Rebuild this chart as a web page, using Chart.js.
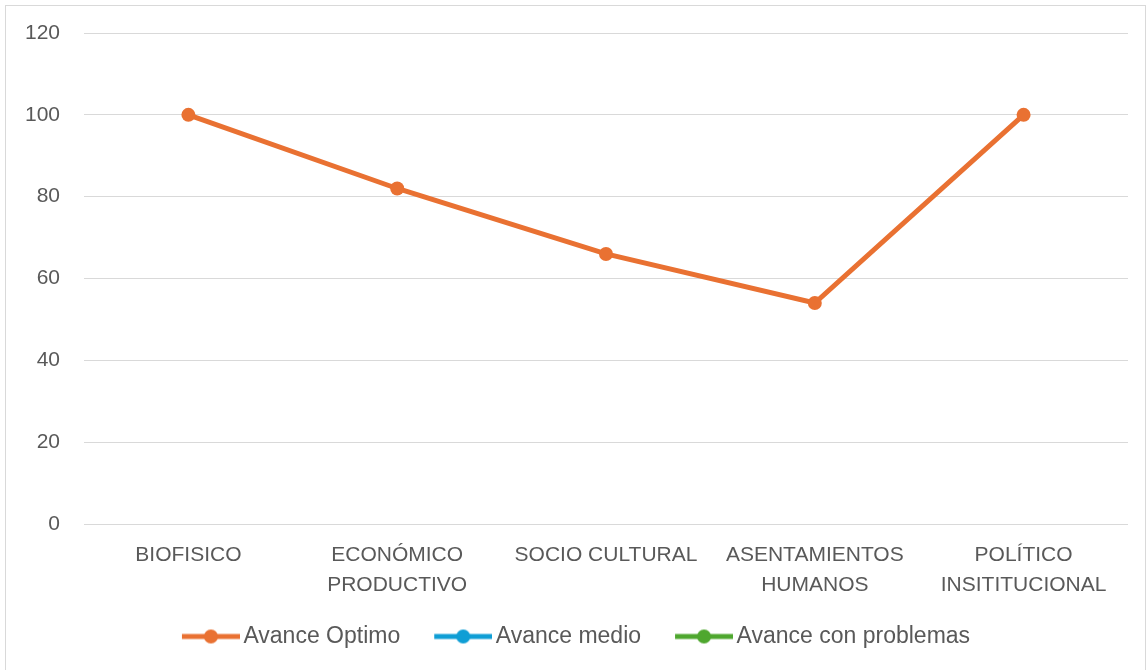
<!DOCTYPE html>
<html>
<head>
<meta charset="utf-8">
<script src="https://cdn.jsdelivr.net/npm/chart.js@4.4.1/dist/chart.umd.min.js"></script>
<style>
  html, body { margin: 0; padding: 0; background: #fff; }
  #wrap { position: relative; width: 1148px; height: 670px; }
  #frame { position: absolute; left: 5px; top: 5px; width: 1141px; height: 670px; border: 1px solid #d9d9d9; box-sizing: border-box; pointer-events: none; }
  canvas { position: absolute; left: 0; top: 0; }
</style>
</head>
<body>
<div id="wrap">
  <canvas id="lineChart" width="1148" height="670"></canvas>
  <div id="frame"></div>
</div>
<script>
// categories and series
var categorias = [
  'BIOFISICO',
  ['ECONÓMICO', 'PRODUCTIVO'],
  'SOCIO CULTURAL',
  ['ASENTAMIENTOS', 'HUMANOS'],
  ['POLÍTICO', 'INSITITUCIONAL']
];
var avanceOptimo = [100, 82, 66, 54, 100];
var avanceMedio = [];
var avanceProblemas = [];
var ticksY = [0, 20, 40, 60, 80, 100, 120];

var naranja = '#E97132', azul = '#0F9ED5', verde = '#4EA72E';
var fontFam = "'Liberation Sans', Arial, sans-serif";

// legend marker: line with a dot, drawn to a small canvas
var boxW = 74, lineLen = 58;
function legendMarker(color) {
    var c = document.createElement('canvas');
    c.width = boxW + 16;
    c.height = 16;
    var g = c.getContext('2d');
    var x0 = c.width - lineLen, x1 = c.width;
    g.strokeStyle = color;
    g.lineWidth = 5;
    g.beginPath();
    g.moveTo(x0, 8);
    g.lineTo(x1, 8);
    g.stroke();
    g.fillStyle = color;
    g.beginPath();
    g.arc((x0 + x1) / 2, 8, 7, 0, Math.PI * 2);
    g.fill();
    return c;
}

function serie(label, data, color) {
    return {
        label: label,
        data: data,
        borderColor: color,
        backgroundColor: color,
        borderWidth: 5,
        pointRadius: 7,
        pointHoverRadius: 7,
        pointBorderWidth: 0,
        pointBackgroundColor: color,
        tension: 0,
        fill: false
    };
}

var markers = [legendMarker(naranja), legendMarker(azul), legendMarker(verde)];

var ctx = document.getElementById('lineChart').getContext('2d');
var chart = new Chart(ctx, {
    type: 'line',
    data: {
        labels: categorias,
        datasets: [
            serie('Avance Optimo', avanceOptimo, naranja),
            serie('Avance medio', avanceMedio, azul),
            serie('Avance con problemas', avanceProblemas, verde)
        ]
    },
    options: {
        responsive: false,
        animation: false,
        layout: { padding: { top: 33, right: 20, bottom: 12, left: 0 } },
        scales: {
            x: {
                offset: true,
                grid: { display: false, drawTicks: false },
                border: { display: false },
                ticks: {
                    color: '#595959',
                    padding: 16,
                    maxRotation: 0,
                    autoSkip: false,
                    font: { family: fontFam, size: 21, lineHeight: 1.43 }
                },
                afterFit: function (scale) { scale.height = 91; }
            },
            y: {
                min: 0,
                max: 120,
                afterBuildTicks: function (scale) {
                    scale.ticks = ticksY.map(function (v) { return { value: v }; });
                },
                grid: { color: '#d9d9d9', lineWidth: 1, drawTicks: false },
                border: { display: false },
                ticks: {
                    color: '#595959',
                    padding: 24,
                    font: { family: fontFam, size: 21 }
                },
                afterFit: function (scale) {
                    scale.width = 84;
                    scale.paddingTop = 0;
                    scale.paddingBottom = 0;
                }
            }
        },
        plugins: {
            tooltip: { enabled: false },
            legend: {
                position: 'bottom',
                labels: {
                    usePointStyle: true,
                    pointStyleWidth: boxW,
                    padding: 10,
                    color: '#595959',
                    font: { family: fontFam, size: 23 },
                    generateLabels: function (chart) {
                        return chart.data.datasets.map(function (ds, i) {
                            return {
                                text: ds.label,
                                pointStyle: markers[i],
                                fillStyle: ds.borderColor,
                                strokeStyle: ds.borderColor,
                                lineWidth: 0,
                                fontColor: '#595959',
                                hidden: false,
                                datasetIndex: i
                            };
                        });
                    }
                }
            }
        }
    }
});
</script>
</body>
</html>
